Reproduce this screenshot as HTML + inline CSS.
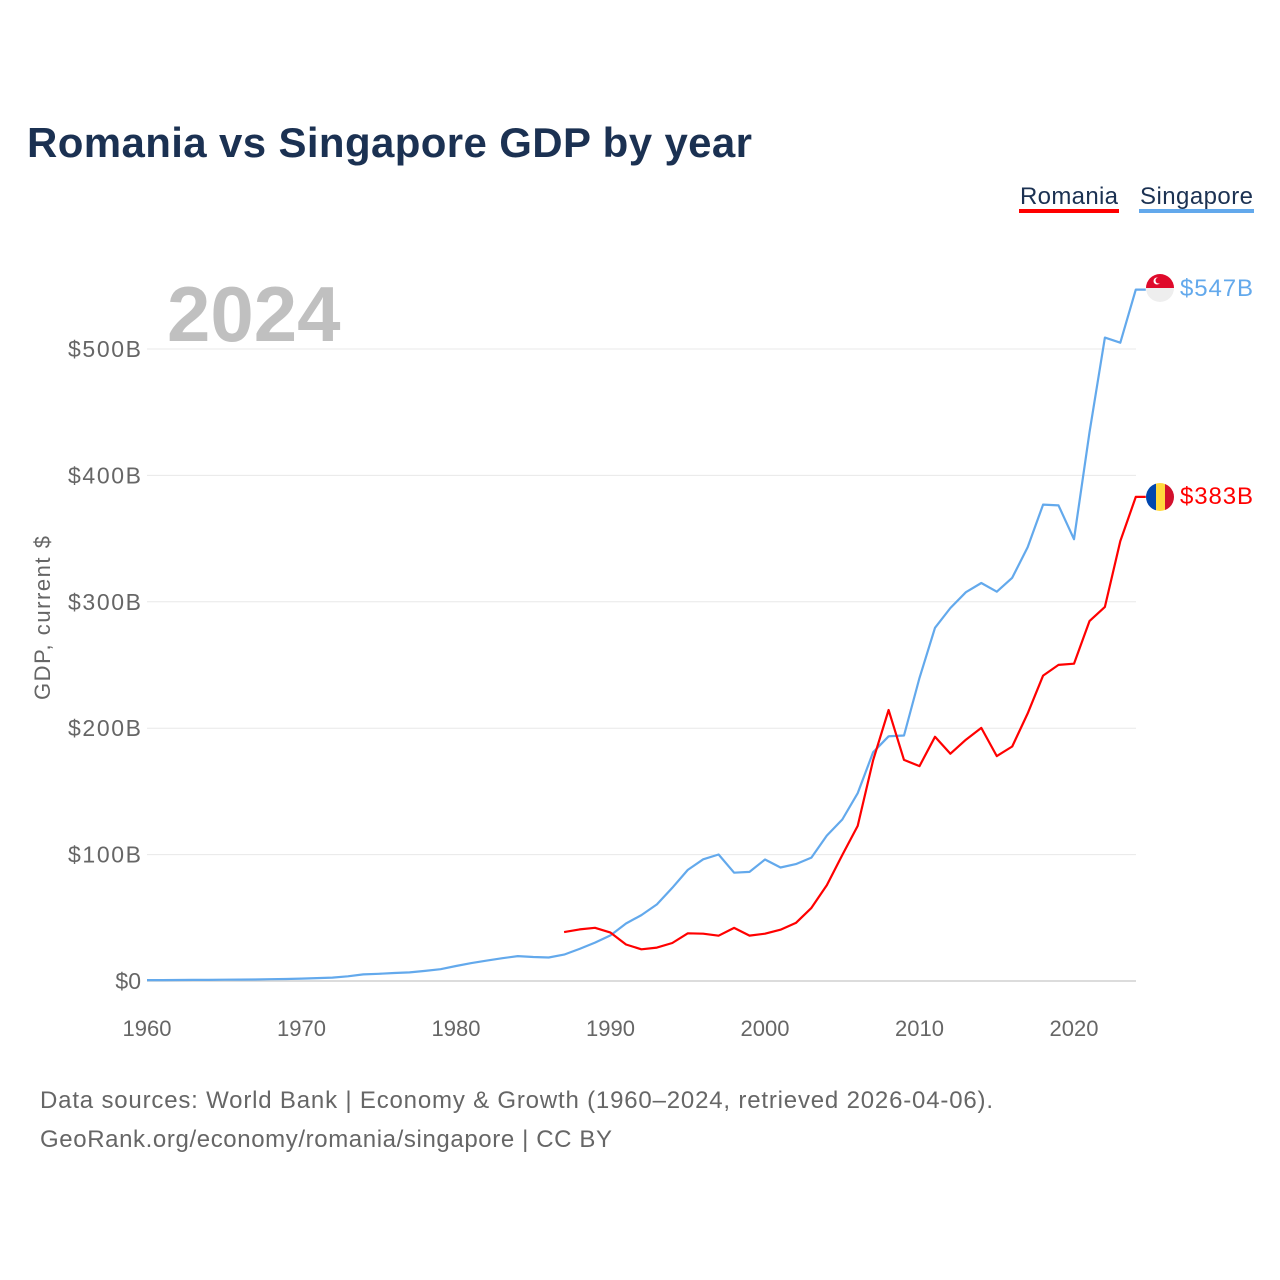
<!DOCTYPE html>
<html><head><meta charset="utf-8"><style>
html,body{margin:0;padding:0;background:#fff;}
svg{display:block;font-family:"Liberation Sans",sans-serif;}
</style></head><body>
<svg id="chart" width="1280" height="1280" viewBox="0 0 1280 1280">
<text x="27" y="157" font-size="42" font-weight="bold" fill="#1b3152" textLength="725">Romania vs Singapore GDP by year</text>
<g><text x="1020" y="204" font-size="24" fill="#1b3152" textLength="98">Romania</text><rect x="1019" y="209" width="100" height="4" fill="#ff0000"/></g>
<g><text x="1140" y="204" font-size="24" fill="#1b3152" textLength="113">Singapore</text><rect x="1139" y="209" width="115" height="4" fill="#63a9ec"/></g>
<text x="167" y="341" font-size="78" font-weight="bold" fill="#c0c0c0">2024</text>
<g id="grid"></g><g id="xt"></g>
<text transform="translate(50,618) rotate(-90)" text-anchor="middle" font-size="22" fill="#666" textLength="164">GDP, current $</text>
<g id="lines"></g>
<g><clipPath id="c1"><circle cx="1160" cy="288" r="14"/></clipPath><g clip-path="url(#c1)"><rect x="1146" y="274" width="28" height="14" fill="#df0a2b"/><rect x="1146" y="288" width="28" height="14" fill="#eeeeee"/></g><circle cx="1157" cy="281" r="3.5" fill="#fff"/><circle cx="1158.5" cy="280.5" r="3" fill="#df0a2b"/></g>
<g><clipPath id="c2"><circle cx="1160" cy="497" r="14"/></clipPath><g clip-path="url(#c2)"><rect x="1146" y="483" width="10" height="28" fill="#0046ae"/><rect x="1156" y="483" width="9" height="28" fill="#ffd83d"/><rect x="1165" y="483" width="10" height="28" fill="#d2102c"/></g></g>
<text x="1180" y="296" font-size="24" fill="#63a9ec" textLength="73">$547B</text>
<text x="1180" y="504" font-size="24" fill="#ff0000" textLength="73">$383B</text>
<text x="40" y="1108" font-size="24" fill="#666" textLength="953">Data sources: World Bank | Economy &amp; Growth (1960–2024, retrieved 2026-04-06).</text>
<text x="40" y="1147" font-size="24" fill="#666" textLength="572">GeoRank.org/economy/romania/singapore | CC BY</text>
</svg>
<script>
const yTicks=[0,100,200,300,400,500];
const yTickLabels=["$0","$100B","$200B","$300B","$400B","$500B"];
const xTicks=[1960,1970,1980,1990,2000,2010,2020];
const sgStart=1960;
const singapore=[0.7,0.75,0.8,0.9,0.9,1.0,1.1,1.2,1.4,1.6,1.9,2.3,2.7,3.7,5.2,5.7,6.3,6.8,8.0,9.3,11.9,14.2,16.1,18.0,19.7,19.0,18.6,20.9,25.4,30.4,36.1,45.5,52.1,60.6,73.7,87.9,96.3,100.1,85.7,86.3,96.1,89.8,92.5,97.6,115,127.8,148.6,180.9,193.6,194.2,239.8,279.4,295.1,307.6,314.9,308.0,319.0,343.3,376.9,376.3,349.5,434.1,509,505,547];
const roStart=1987;
const romania=[38.7,40.8,42.1,38.3,28.9,25.1,26.4,30.1,37.7,37.4,35.8,42.0,35.9,37.4,40.6,46.0,57.8,75.8,99.7,122.7,174.6,214.4,174.9,170.0,193.2,179.8,190.9,200.2,177.9,185.5,211.7,241.6,250.1,251.0,284.7,296,348,383];
const X=y=>147+(y-1960)*(1074-147)/60;
const Y=v=>981-v*(981-349)/500;
const NS="http://www.w3.org/2000/svg";
const grid=document.getElementById('grid'),xt=document.getElementById('xt'),lines=document.getElementById('lines');
yTicks.forEach((t,i)=>{
 const l=document.createElementNS(NS,'line');
 l.setAttribute('x1',147);l.setAttribute('x2',1136);l.setAttribute('y1',Y(t));l.setAttribute('y2',Y(t));
 l.setAttribute('stroke',t===0?'#d0d0d0':'#e8e8e8');l.setAttribute('stroke-width',t===0?1.5:1);
 
 
 grid.appendChild(l);
 const tx=document.createElementNS(NS,'text');
 tx.setAttribute('x',141);tx.setAttribute('y',Y(t)+8);tx.setAttribute('text-anchor','end');
 tx.setAttribute('font-size','23');tx.setAttribute('fill','#666');tx.textContent=yTickLabels[i];
 if(yTickLabels[i].length===5) tx.setAttribute('textLength','73');
 if(yTickLabels[i].length===4) tx.setAttribute('textLength','64');
 
 
 grid.appendChild(tx);
});
xTicks.forEach(t=>{
 const tx=document.createElementNS(NS,'text');
 tx.setAttribute('x',X(t));tx.setAttribute('y',1036);tx.setAttribute('text-anchor','middle');
 tx.setAttribute('font-size','22');tx.setAttribute('fill','#666');tx.textContent=t;
 
 
 xt.appendChild(tx);
});
function series(vals,start,color,name){
 let pts=vals.map((v,i)=>X(start+i).toFixed(1)+','+Y(v).toFixed(1));
 pts.push((X(start+vals.length-1)+10).toFixed(1)+','+Y(vals[vals.length-1]).toFixed(1));
 const p=document.createElementNS(NS,'polyline');
 p.setAttribute('points',pts.join(' '));p.setAttribute('fill','none');
 p.setAttribute('stroke',color);p.setAttribute('stroke-width',2.2);p.setAttribute('stroke-linejoin','round');
 
 
 lines.appendChild(p);
}
series(singapore,sgStart,'#63a9ec','singapore-line');
series(romania,roStart,'#ff0000','romania-line');
</script>
</body></html>
